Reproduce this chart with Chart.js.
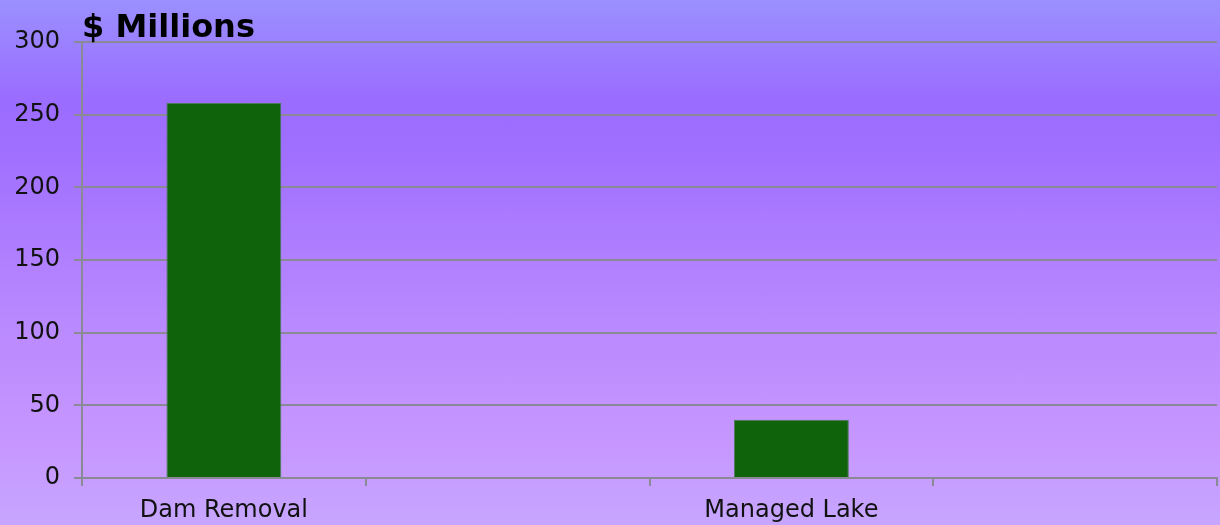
<!DOCTYPE html>
<html>
<head>
<meta charset="utf-8">
<script src="https://cdn.jsdelivr.net/npm/chart.js@4.4.1/dist/chart.umd.min.js"></script>
<style>
    html, body {
        margin: 0;
        padding: 0;
        width: 1220px;
        height: 525px;
        overflow: hidden;
        background: linear-gradient(to bottom, #9b90ff 0%, #9a6cff 19%, #a170ff 30%, #b888ff 60%, #c797ff 85%, #c6a6ff 100%);
    }
    #wrap { position: relative; width: 1220px; height: 525px; }
</style>
</head>
<body>
<div id="wrap"><canvas id="costChart"></canvas></div>
<script>
const categories = ["Dam Removal", "", "Managed Lake", ""];
const costValues = [258, null, 40, null];
const yTicks = [0, 50, 100, 150, 200, 250, 300];
const yTitle = "$ Millions";

const gridColor = "#8a8a96";

// title drawn at the left edge of the plot area, like the original
const titlePlugin = {
    id: "leftTitle",
    afterDraw(chart) {
        const ctx = chart.ctx;
        ctx.save();
        ctx.font = "bold 32px 'DejaVu Sans'";
        ctx.fillStyle = "#000";
        ctx.textAlign = "left";
        ctx.textBaseline = "alphabetic";
        ctx.fillText(yTitle, chart.chartArea.left, 37);
        ctx.restore();
    }
};

const ctx = document.getElementById("costChart").getContext("2d");
const costChart = new Chart(ctx, {
    type: "bar",
    data: {
        labels: categories,
        datasets: [{
            label: "Cost",
            data: costValues,
            backgroundColor: "#0f640b",
            borderColor: "#4f7a5a",
            borderWidth: 1,
            barPercentage: 0.405,
            categoryPercentage: 1
        }]
    },
    options: {
        responsive: true,
        maintainAspectRatio: false,
        animation: false,
        layout: { padding: { top: 42, right: 3, left: 0, bottom: 0 } },
        plugins: {
            legend: { display: false },
            tooltip: { enabled: false }
        },
        scales: {
            x: {
                offset: true,
                grid: {
                    offset: true,
                    drawOnChartArea: false,
                    color: gridColor,
                    tickLength: 8,
                    lineWidth: 2
                },
                border: { color: gridColor, width: 2 },
                ticks: {
                    autoSkip: false,
                    maxRotation: 0,
                    padding: 10,
                    color: "#111",
                    font: { family: "'DejaVu Sans'", size: 24 }
                },
                afterFit(scale) { scale.height = 47; }
            },
            y: {
                min: 0,
                max: 300,
                afterBuildTicks(scale) {
                    scale.ticks = yTicks.map(v => ({ value: v }));
                },
                grid: {
                    color: gridColor,
                    tickLength: 8,
                    lineWidth: 2
                },
                border: { color: gridColor, width: 2 },
                ticks: {
                    padding: 14,
                    color: "#111",
                    font: { family: "'DejaVu Sans'", size: 24 }
                },
                afterFit(scale) { scale.width = 82; }
            }
        }
    },
    plugins: [titlePlugin]
});
</script>
</body>
</html>
